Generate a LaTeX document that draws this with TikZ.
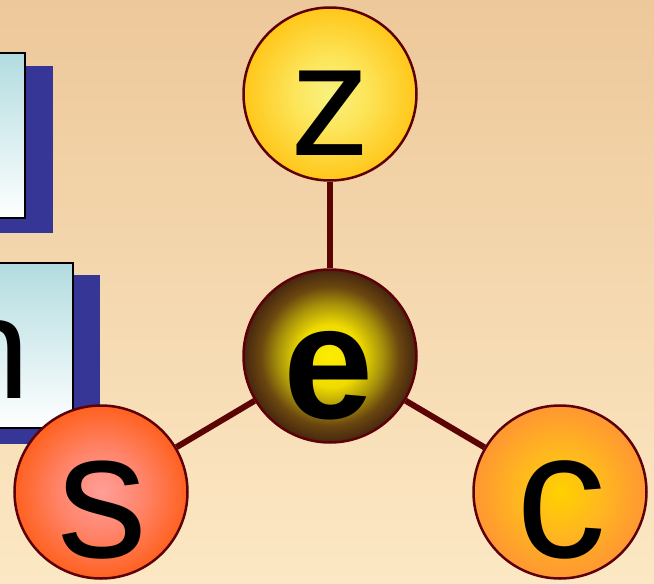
\documentclass[tikz,border=0pt]{standalone}
\usepackage{fontspec}
\setmainfont{Liberation Sans}
\definecolor{bgtop}{HTML}{EDC89A}
\definecolor{bgbot}{HTML}{FCE8C4}
\definecolor{ringc}{HTML}{5E0008}
\definecolor{linkc}{HTML}{5A0404}
\definecolor{shadowc}{HTML}{363696}
\definecolor{boxtop}{HTML}{B2DCE0}
\pgfdeclareradialshading{zball}{\pgfpoint{0bp}{0bp}}{rgb(0bp)=(0.97,0.95,0.50); rgb(10bp)=(0.99,0.90,0.36); rgb(25bp)=(1,0.78,0.10); rgb(30bp)=(1,0.78,0.10)}
\pgfdeclareradialshading{eball}{\pgfpoint{0bp}{0bp}}{rgb(0bp)=(0.99,0.93,0.0); rgb(9bp)=(0.94,0.86,0.0); rgb(15bp)=(0.66,0.58,0.04); rgb(20bp)=(0.42,0.28,0.06); rgb(25bp)=(0.27,0.15,0.06); rgb(30bp)=(0.27,0.15,0.06)}
\pgfdeclareradialshading{sball}{\pgfpoint{0bp}{0bp}}{rgb(0bp)=(1,0.62,0.60); rgb(12bp)=(1,0.52,0.42); rgb(25bp)=(1,0.38,0.12); rgb(30bp)=(1,0.38,0.12)}
\pgfdeclareradialshading{cball}{\pgfpoint{0bp}{0bp}}{rgb(0bp)=(1,0.82,0.0); rgb(12bp)=(1,0.72,0.12); rgb(25bp)=(1,0.59,0.20); rgb(30bp)=(1,0.59,0.20)}
\tikzset{
  ball/.style={circle, draw=ringc, line width=2.5pt, minimum size=173pt, inner sep=0pt},
  link/.style={draw=linkc, line width=6pt},
  letter/.style={anchor=base, inner sep=0pt, text=black, text depth=0pt},
  shadowbox/.style={fill=shadowc, draw=none},
  card/.style={draw=black, line width=1.6pt, top color=boxtop, bottom color=white}
}
\begin{document}
\begin{tikzpicture}[x=1pt,y=-1pt]
\useasboundingbox (0,0) rectangle (654,584);
\clip (0,0) rectangle (654,584);
\shade[top color=bgtop, bottom color=bgbot] (0,0) rectangle (654,584);
% boxes
\path[shadowbox] (-10,66) rectangle (53,233);
\path[card] (-10,53) rectangle (25,218);
\path[shadowbox] (-10,275) rectangle (100,444);
\path[card] (-10,263) rectangle (73,428);
\node[letter, anchor=base east] (ntxt) at (30,398) {\fontsize{145}{145}\selectfont n};
% balls
\node[ball, shading=zball] (z) at (330,94) {};
\node[ball, shading=eball] (e) at (330,356) {};
\node[ball, shading=sball] (s) at (101,492) {};
\node[ball, shading=cball] (c) at (560,492) {};
\draw[link] (e) -- (z);
\draw[link] (e) -- (s);
\draw[link] (e) -- (c);
\node[letter] (zt) at (330,155) {\fontsize{160}{160}\selectfont z};
\node[letter] (et) at (329,418) {\fontsize{162}{162}\selectfont\bfseries e};
\node[letter] (st) at (102,557) {\fontsize{180}{180}\selectfont s};
\node[letter] (ct) at (561,557) {\fontsize{180}{180}\selectfont c};
\end{tikzpicture}
\end{document}
